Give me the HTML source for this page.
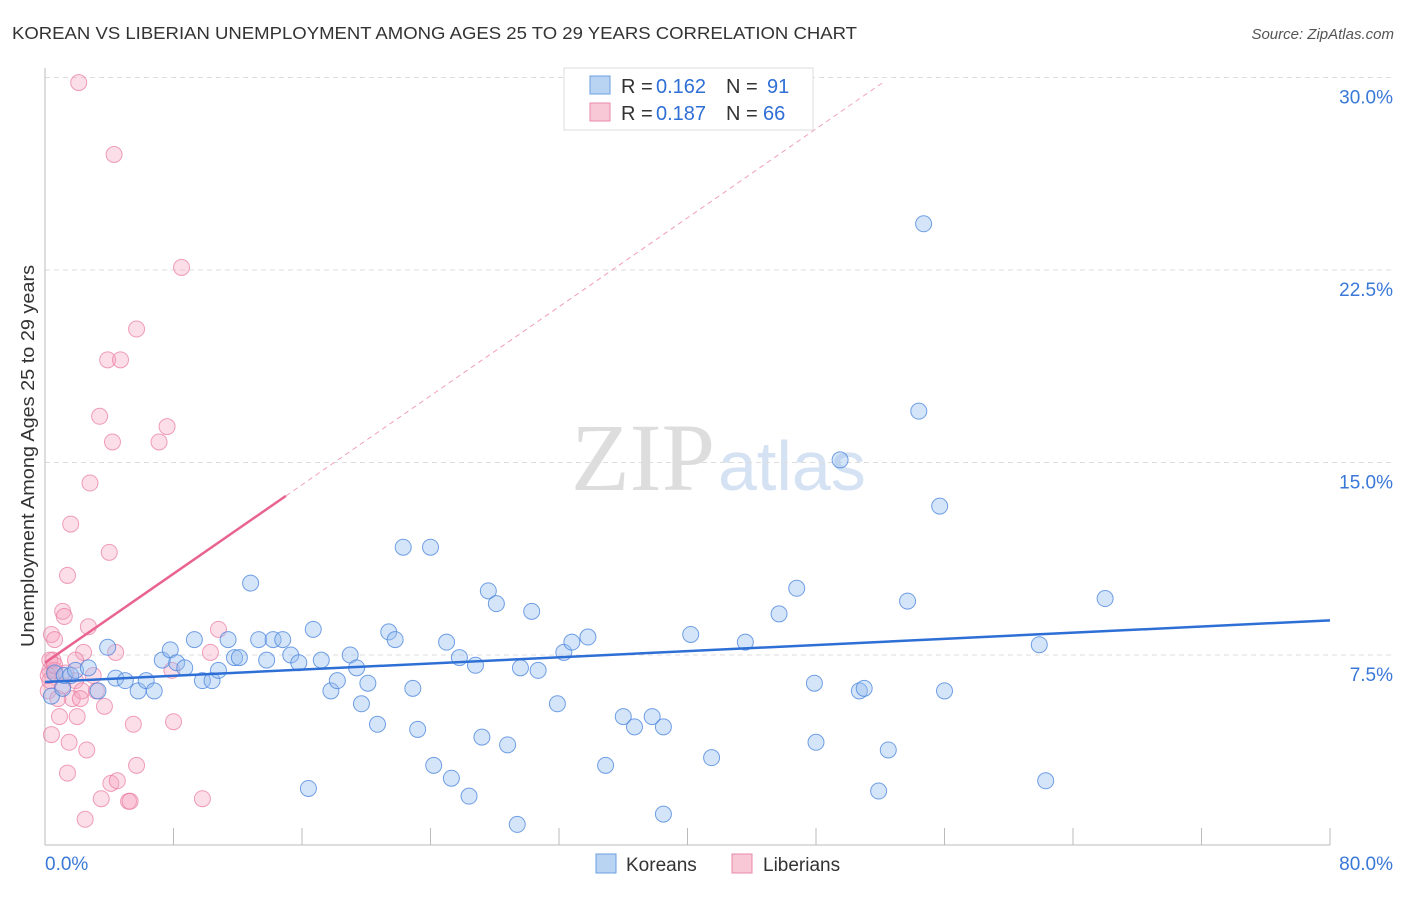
<!DOCTYPE html>
<html><head><meta charset="utf-8"><style>
body{margin:0;background:#fff;font-family:"Liberation Sans",sans-serif}
</style></head><body>
<svg id="c" width="1406" height="892" xmlns="http://www.w3.org/2000/svg">
<text x="12" y="39" font-size="17.5" fill="#333" textLength="845" lengthAdjust="spacingAndGlyphs">KOREAN VS LIBERIAN UNEMPLOYMENT AMONG AGES 25 TO 29 YEARS CORRELATION CHART</text>
<text x="1394" y="39" font-size="15" fill="#555" text-anchor="end" font-style="italic">Source: ZipAtlas.com</text>
<text x="34" y="456" font-size="18" fill="#333" text-anchor="middle" textLength="382" lengthAdjust="spacingAndGlyphs" transform="rotate(-90 34 456)">Unemployment Among Ages 25 to 29 years</text>
<text x="715" y="490" font-size="96" fill="#ddd" text-anchor="end" font-family="Liberation Serif">ZIP</text>
<text x="718" y="490" font-size="70" fill="#d5e2f3">atlas</text>
<g id="grid"></g><g id="pts"></g><g id="lines"></g>
<g>
<rect x="564" y="68" width="249" height="62" fill="#fff" stroke="#ddd"/>
<rect x="590" y="76" width="20" height="18" fill="#b9d3f3" stroke="#6a9fe0"/>
<text x="621" y="93" font-size="20" fill="#333">R =</text><text x="656" y="93" font-size="20" fill="#2f6fd6">0.162</text>
<text x="726" y="93" font-size="20" fill="#333">N =</text><text x="767" y="93" font-size="20" fill="#2f6fd6">91</text>
<rect x="590" y="103" width="20" height="18" fill="#f8c8d6" stroke="#e889a8"/>
<text x="621" y="120" font-size="20" fill="#333">R =</text><text x="656" y="120" font-size="20" fill="#2f6fd6">0.187</text>
<text x="726" y="120" font-size="20" fill="#333">N =</text><text x="763" y="120" font-size="20" fill="#2f6fd6">66</text>
</g>
<g>
<rect x="596" y="854" width="20" height="19" fill="#b9d3f3" stroke="#6a9fe0"/>
<text x="626" y="871" font-size="19" fill="#333">Koreans</text>
<rect x="732" y="854" width="20" height="19" fill="#f8c8d6" stroke="#e889a8"/>
<text x="763" y="871" font-size="19" fill="#333">Liberians</text>
</g>
</svg>
<script>
const yTicks=[7.5,15,22.5,30];
const yTickLabels=["7.5%","15.0%","22.5%","30.0%"];
const xTicks=[0,8,16,24,32,40,48,56,64,72,80];
const koreanX=[0.4,0.6,1.1,1.2,1.6,1.9,2.7,3.3,3.9,4.4,5.0,5.8,6.3,6.8,7.3,7.8,8.2,8.7,9.3,9.8,10.4,10.8,11.4,11.8,12.1,12.8,13.3,13.8,14.2,14.8,15.3,15.8,16.4,16.7,17.2,17.8,18.2,19.0,19.4,19.7,20.1,20.7,21.4,21.8,22.3,22.9,23.2,24.0,24.2,25.0,25.3,25.8,26.4,26.8,27.2,27.6,28.1,28.8,29.4,29.6,30.3,30.7,31.9,32.3,32.8,33.8,34.9,36.0,36.7,37.8,38.5,38.5,40.2,41.5,43.6,45.7,46.8,47.9,48.0,49.5,50.7,51.0,51.9,52.5,53.7,54.4,54.7,55.7,56.0,61.9,62.3,66.0];
const koreanY=[5.9,6.8,6.2,6.7,6.7,6.9,7.0,6.1,7.8,6.6,6.5,6.1,6.5,6.1,7.3,7.7,7.2,7.0,8.1,6.5,6.5,6.9,8.1,7.4,7.4,10.3,8.1,7.3,8.1,8.1,7.5,7.2,2.3,8.5,7.3,6.1,6.5,7.5,7.0,5.6,6.4,4.8,8.4,8.1,11.7,6.2,4.6,11.7,3.2,8.0,2.7,7.4,2.0,7.1,4.3,10.0,9.5,4.0,0.9,7.0,9.2,6.9,5.6,7.6,8.0,8.2,3.2,5.1,4.7,5.1,1.3,4.7,8.3,3.5,8.0,9.1,10.1,6.4,4.1,15.1,6.1,6.2,2.2,3.8,9.6,17.0,24.3,13.3,6.1,7.9,2.6,9.7];
const liberianX=[0.2,0.3,0.3,0.4,0.4,0.5,0.6,0.6,0.9,1.1,1.2,1.4,1.4,1.5,1.6,1.7,1.9,2.0,2.1,2.3,2.4,2.5,2.6,2.7,2.8,3.0,3.2,3.4,3.5,3.7,3.9,4.0,4.1,4.2,4.3,4.4,4.5,4.7,5.2,5.3,5.5,5.7,5.7,7.1,7.6,7.9,8.0,8.5,9.8,10.3,10.8,0.2,0.3,0.6,0.8,1.1,1.3,2.2,1.9];
const liberianY=[6.1,6.9,6.5,4.4,8.3,7.3,8.1,6.9,5.1,9.2,9.0,2.9,10.6,4.1,12.6,5.8,6.5,5.1,29.8,6.1,7.6,1.1,3.8,8.6,14.2,6.7,6.1,16.8,1.9,5.5,19.0,11.5,2.5,15.8,27.0,7.6,2.6,19.0,1.8,1.8,4.8,3.2,20.2,15.8,16.4,6.9,4.9,22.6,1.9,7.6,8.5,6.7,7.3,7.1,5.8,6.3,6.8,5.8,7.3];
const kTrend=[6.45,8.85];
const lTrend=[7.2,13.7];
const X0=45,X1=1330,Y0=847.5,YS=192.5/7.5;
const xs=v=>X0+v/80*(X1-X0), ys=v=>Y0-v*YS;
const NS="http://www.w3.org/2000/svg";
function mk(t,a,p){const e=document.createElementNS(NS,t);for(const k in a)e.setAttribute(k,a[k]);p.appendChild(e);return e;}
const g=document.getElementById('grid');
yTicks.forEach((v,i)=>{
 const l=mk('line',{x1:45,x2:1394,y1:ys(v),y2:ys(v),stroke:'#ddd','stroke-dasharray':'5,4'},g);
 
 
 const t=mk('text',{x:1393,y:ys(v)+26,'font-size':19,fill:'#3a78d8','text-anchor':'end'},g);
 t.textContent=yTickLabels[i];
 
 
});
const ax=mk('line',{x1:45,x2:1330,y1:845,y2:845,stroke:'#bbb'},g);


const ay=mk('line',{x1:45,x2:45,y1:68,y2:845,stroke:'#bbb'},g);


xTicks.forEach(v=>{const t=mk('line',{x1:xs(v),x2:xs(v),y1:828,y2:845,stroke:'#bbb'},g);
 
 });
[[0,'start',45,'x-min-label'],[80,'end',1393,'x-max-label']].forEach(([v,a,x,n])=>{const t=mk('text',{x:x,y:870,'font-size':19,fill:'#3a78d8','text-anchor':a},g);t.textContent=v.toFixed(1)+'%';
 
 });
const p=document.getElementById('pts');
liberianX.forEach((v,i)=>{const c=mk('circle',{cx:xs(v),cy:ys(liberianY[i]),r:8,fill:'rgba(245,160,190,0.35)',stroke:'rgba(232,120,160,0.7)','stroke-width':1},p);
 
 });
koreanX.forEach((v,i)=>{const c=mk('circle',{cx:xs(v),cy:ys(koreanY[i]),r:8,fill:'rgba(150,190,240,0.4)',stroke:'rgba(70,130,220,0.75)','stroke-width':1},p);
 
 });
const L=document.getElementById('lines');
const kl=mk('line',{x1:xs(0),y1:ys(kTrend[0]),x2:xs(80),y2:ys(kTrend[1]),stroke:'#2e6fd6','stroke-width':2.5},L);


const sl=(lTrend[1]-lTrend[0])/15;
const ld=mk('line',{x1:xs(15),y1:ys(lTrend[1]),x2:xs(52.3),y2:ys(lTrend[0]+sl*52.3),stroke:'#f0a0b8','stroke-width':1,'stroke-dasharray':'5,4'},L);


const ls=mk('line',{x1:xs(0),y1:ys(lTrend[0]),x2:xs(15),y2:ys(lTrend[1]),stroke:'#e8648f','stroke-width':2.5},L);


</script>
</body></html>
